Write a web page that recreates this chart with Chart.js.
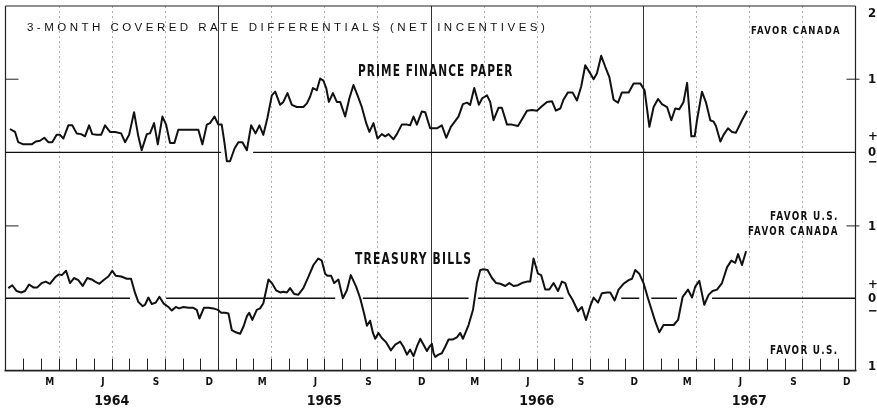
<!DOCTYPE html>
<html>
<head>
<meta charset="utf-8">
<script src="https://cdn.jsdelivr.net/npm/chart.js@4.4.1/dist/chart.umd.min.js"></script>
<style>
  html, body { margin: 0; padding: 0; background: #fff; }
  #wrap { position: relative; width: 877px; height: 408px; }
  canvas { display: block; }
  .note {
    position: absolute; white-space: nowrap; line-height: 1; color: #111;
    font-family: "DejaVu Sans Condensed", "DejaVu Sans", sans-serif;
    font-weight: bold; font-stretch: condensed; transform-origin: 0 0;
  }
  .note.light { font-family: "Liberation Sans", Arial, sans-serif; font-weight: normal; font-stretch: normal; }
</style>
</head>
<body>
<div id="wrap">
  <canvas id="chart" width="877" height="408"></canvas>
  <div class="note light" style="left:27px;top:22.8px;font-size:10px;letter-spacing:3px" data-w="518">3-MONTH COVERED RATE DIFFERENTIALS (NET INCENTIVES)</div>
  <div class="note" style="left:750.7px;top:25px;font-size:10.5px;letter-spacing:1.5px" data-w="88.6">FAVOR CANADA</div>
  <div class="note" style="left:358.3px;top:63.3px;font-size:16px;letter-spacing:1.5px" data-w="154.4">PRIME FINANCE PAPER</div>
  <div class="note" style="left:355px;top:252.3px;font-size:15px;letter-spacing:1.5px" data-w="116">TREASURY BILLS</div>
  <div class="note" style="left:770px;top:211.2px;font-size:11.5px;letter-spacing:1.5px" data-w="67.3">FAVOR U.S.</div>
  <div class="note" style="left:747.7px;top:226.3px;font-size:11.5px;letter-spacing:1.5px" data-w="89.6">FAVOR CANADA</div>
  <div class="note" style="left:770px;top:345.3px;font-size:11.5px;letter-spacing:1.5px" data-w="67">FAVOR U.S.</div>
</div>
<script>
// months counted from the start of January 1964
const monthLabelPos = [2.5, 5.5, 8.5, 11.5, 14.5, 17.5, 20.5, 23.5, 26.5, 29.5, 32.5, 35.5, 38.5, 41.5, 44.5, 47.5];
const monthLabels = ['M', 'J', 'S', 'D', 'M', 'J', 'S', 'D', 'M', 'J', 'S', 'D', 'M', 'J', 'S', 'D'];
const yearPos = [6, 18, 30, 42];
const yearLabels = ['1964', '1965', '1966', '1967'];
const quarterLines = [3, 6, 9, 15, 18, 21, 27, 30, 33, 39, 42, 45];
const yearLines = [12, 24, 36];

// right-hand scale labels for each panel
const paperTickValues = [1.9, 1, 0.22, 0, -0.14];
const paperTickLabels = ['2', '1', '+', '0', '\u2212'];
const billsTickValues = [0.99, 0.19, 0, -0.18, -0.945];
const billsTickLabels = ['1', '+', '0', '\u2212', '1'];

// prime finance paper
const paperMonths = [
  0.25, 0.54, 0.72, 1.01, 1.48, 1.71, 1.95, 2.19, 2.42, 2.64,
  2.89, 3.08, 3.27, 3.55, 3.77, 4.02, 4.27, 4.49, 4.72, 4.90,
  5.15, 5.40, 5.62, 5.90, 6.19, 6.53, 6.75, 6.98, 7.26, 7.50,
  7.69, 7.98, 8.16, 8.39, 8.60, 8.86, 9.07, 9.29, 9.54, 9.76,
  10.89, 11.12, 11.37, 11.55, 11.80, 12.02, 12.21, 12.36, 12.50, 12.68,
  12.93, 13.15, 13.38, 13.63, 13.87, 14.12, 14.34, 14.56, 14.79, 15.04,
  15.23, 15.51, 15.69, 15.92, 16.17, 16.45, 16.82, 17.02, 17.20, 17.36,
  17.58, 17.77, 17.95, 18.11, 18.26, 18.49, 18.71, 18.90, 19.18, 19.42,
  19.65, 19.88, 20.12, 20.37, 20.55, 20.78, 21.01, 21.25, 21.44, 21.63,
  21.91, 22.10, 22.38, 22.67, 22.85, 23.04, 23.23, 23.51, 23.70, 23.98,
  24.36, 24.64, 24.89, 25.15, 25.40, 25.58, 25.83, 26.06, 26.24, 26.47,
  26.73, 26.92, 27.19, 27.37, 27.56, 27.84, 28.03, 28.32, 28.60, 28.94,
  29.16, 29.45, 29.73, 30.01, 30.29, 30.58, 30.86, 31.08, 31.33, 31.51,
  31.76, 32.02, 32.27, 32.51, 32.74, 33.02, 33.21, 33.40, 33.64, 33.87,
  34.10, 34.34, 34.59, 34.81, 35.19, 35.47, 35.85, 36.09, 36.36, 36.60,
  36.85, 37.07, 37.36, 37.60, 37.82, 38.05, 38.29, 38.49, 38.73, 38.92,
  39.05, 39.33, 39.56, 39.80, 39.99, 40.12, 40.37, 40.55, 40.80, 41.03,
  41.25, 41.59, 41.88
];
const paperValues = [
  0.32, 0.28, 0.14, 0.11, 0.11, 0.15, 0.16, 0.20, 0.14, 0.14,
  0.24, 0.24, 0.19, 0.37, 0.37, 0.26, 0.25, 0.22, 0.37, 0.25,
  0.24, 0.24, 0.37, 0.28, 0.28, 0.26, 0.14, 0.24, 0.55, 0.22,
  0.03, 0.25, 0.26, 0.40, 0.11, 0.49, 0.38, 0.13, 0.13, 0.31,
  0.31, 0.11, 0.38, 0.40, 0.49, 0.38, 0.38, 0.14, -0.12, -0.12,
  0.05, 0.14, 0.14, 0.03, 0.37, 0.26, 0.37, 0.24, 0.47, 0.78,
  0.83, 0.65, 0.69, 0.81, 0.65, 0.62, 0.62, 0.67, 0.76, 0.88,
  0.85, 1.01, 0.98, 0.88, 0.69, 0.81, 0.69, 0.69, 0.49, 0.74,
  0.92, 0.78, 0.62, 0.40, 0.28, 0.40, 0.19, 0.25, 0.22, 0.25,
  0.18, 0.25, 0.38, 0.38, 0.37, 0.49, 0.38, 0.56, 0.55, 0.33,
  0.33, 0.37, 0.20, 0.35, 0.43, 0.49, 0.66, 0.68, 0.65, 0.88,
  0.65, 0.74, 0.78, 0.69, 0.44, 0.61, 0.61, 0.38, 0.38, 0.36,
  0.45, 0.57, 0.58, 0.57, 0.63, 0.69, 0.70, 0.57, 0.60, 0.72,
  0.82, 0.82, 0.71, 0.90, 1.19, 1.08, 1.00, 1.08, 1.32, 1.17,
  1.03, 0.72, 0.68, 0.82, 0.82, 0.94, 0.94, 0.85, 0.35, 0.62,
  0.73, 0.66, 0.62, 0.44, 0.60, 0.59, 0.69, 0.95, 0.22, 0.22,
  0.44, 0.83, 0.68, 0.44, 0.42, 0.36, 0.15, 0.24, 0.33, 0.28,
  0.27, 0.44, 0.57
];

// treasury bills
const billsMonths = [
  0.16, 0.38, 0.63, 0.88, 1.10, 1.33, 1.57, 1.80, 2.05, 2.27,
  2.51, 2.80, 3.02, 3.18, 3.42, 3.64, 3.87, 4.11, 4.36, 4.62,
  4.87, 5.06, 5.30, 5.58, 5.81, 6.03, 6.23, 6.53, 6.85, 7.09,
  7.32, 7.50, 7.75, 7.88, 8.07, 8.26, 8.49, 8.69, 8.92, 9.20,
  9.39, 9.62, 9.80, 10.05, 10.33, 10.58, 10.80, 10.95, 11.21, 11.46,
  11.74, 11.99, 12.18, 12.40, 12.59, 12.78, 13.01, 13.25, 13.44, 13.63,
  13.76, 13.94, 14.19, 14.38, 14.56, 14.85, 15.04, 15.28, 15.51, 15.69,
  15.89, 16.07, 16.30, 16.54, 16.82, 17.11, 17.39, 17.67, 17.86, 18.05,
  18.18, 18.39, 18.56, 18.80, 19.05, 19.28, 19.50, 19.80, 20.03, 20.25,
  20.41, 20.59, 20.75, 20.88, 21.06, 21.25, 21.50, 21.76, 22.01, 22.29,
  22.47, 22.67, 22.85, 23.04, 23.23, 23.42, 23.60, 23.80, 23.94, 24.08,
  24.17, 24.27, 24.45, 24.64, 24.83, 25.02, 25.27, 25.49, 25.68, 25.83,
  26.15, 26.40, 26.62, 26.81, 26.99, 27.22, 27.47, 27.71, 27.94, 28.22,
  28.45, 28.69, 28.94, 29.16, 29.45, 29.63, 29.82, 30.07, 30.25, 30.48,
  30.71, 30.95, 31.20, 31.42, 31.61, 31.80, 32.02, 32.33, 32.55, 32.78,
  33.02, 33.21, 33.46, 33.68, 33.97, 34.15, 34.40, 34.62, 34.90, 35.19,
  35.38, 35.56, 35.79, 36.03, 36.28, 36.51, 36.69, 36.92, 37.16, 37.45,
  37.73, 37.98, 38.24, 38.54, 38.77, 38.95, 39.18, 39.46, 39.71, 39.93,
  40.18, 40.46, 40.75, 40.99, 41.21, 41.37, 41.59, 41.82
];
const billsValues = [
  0.14, 0.18, 0.10, 0.08, 0.10, 0.19, 0.15, 0.15, 0.21, 0.23,
  0.20, 0.29, 0.33, 0.32, 0.38, 0.21, 0.28, 0.25, 0.17, 0.28,
  0.26, 0.23, 0.20, 0.26, 0.30, 0.38, 0.31, 0.30, 0.27, 0.27,
  0.07, -0.05, -0.11, -0.09, 0.01, -0.08, -0.06, 0.02, -0.07, -0.12,
  -0.17, -0.12, -0.14, -0.12, -0.13, -0.13, -0.16, -0.28, -0.13, -0.13,
  -0.14, -0.16, -0.20, -0.20, -0.21, -0.44, -0.47, -0.49, -0.39, -0.25,
  -0.20, -0.30, -0.16, -0.14, -0.07, 0.26, 0.21, 0.11, 0.08, 0.09,
  0.08, 0.14, 0.06, 0.05, 0.14, 0.30, 0.46, 0.55, 0.52, 0.34,
  0.31, 0.31, 0.21, 0.26, 0.00, 0.11, 0.32, 0.16, 0.00, -0.21,
  -0.38, -0.31, -0.48, -0.56, -0.48, -0.55, -0.61, -0.72, -0.64, -0.60,
  -0.67, -0.78, -0.71, -0.80, -0.67, -0.56, -0.64, -0.73, -0.67, -0.63,
  -0.76, -0.81, -0.78, -0.76, -0.67, -0.57, -0.57, -0.54, -0.48, -0.56,
  -0.37, -0.16, 0.21, 0.39, 0.40, 0.39, 0.28, 0.21, 0.20, 0.17,
  0.21, 0.17, 0.18, 0.21, 0.23, 0.23, 0.55, 0.34, 0.32, 0.12,
  0.12, 0.21, 0.10, 0.23, 0.21, 0.07, -0.02, -0.18, -0.12, -0.30,
  -0.11, 0.01, -0.06, 0.07, 0.08, 0.08, -0.03, 0.12, 0.20, 0.25,
  0.27, 0.39, 0.34, 0.21, 0.00, -0.18, -0.32, -0.47, -0.37, -0.37,
  -0.37, -0.30, 0.02, 0.12, 0.01, 0.16, 0.24, -0.09, 0.05, 0.10,
  0.12, 0.21, 0.43, 0.52, 0.49, 0.61, 0.46, 0.65
];

// pieces of the zero lines (months), broken where the original leaves gaps
const paperZeroSegments = [[0, 12.18], [13.98, 48]];
const billsZeroSegments = [[0, 7.03], [9.07, 18.62], [20.18, 26.15], [26.68, 31.51], [34.77, 35.79], [36.47, 37.92], [39.9, 48]];

const PAPER_MIN = -2.98, PAPER_MAX = 2;
const BILLS_MIN = -1, BILLS_MAX = 4.04;
const CONDENSED = '"DejaVu Sans Condensed", "DejaVu Sans", sans-serif';
const INK = '#111';

// both y scales fill the whole plot, so a bills value maps linearly onto the paper scale
function billsToPaper(v) {
    return PAPER_MIN + (v - BILLS_MIN) / (BILLS_MAX - BILLS_MIN) * (PAPER_MAX - PAPER_MIN);
}
const rightTickValues = paperTickValues.concat(billsTickValues.map(billsToPaper));
const rightTickLabels = paperTickLabels.concat(billsTickLabels);

function toPoints(xs, ys) {
    return xs.map((x, i) => ({ x: x, y: ys[i] }));
}
function zeroLine(segments) {
    const pts = [];
    segments.forEach(([a, b]) => {
        pts.push({ x: a, y: 0 }, { x: b, y: 0 }, { x: b, y: null });
    });
    return pts;
}

// frame, grid lines and tick marks of the original drawing
const framePlugin = {
    id: 'frame',
    beforeDatasetsDraw(chart) {
        const { ctx, chartArea: a, scales } = chart;
        const xs = scales.x;
        const line = (x1, y1, x2, y2) => {
            ctx.beginPath(); ctx.moveTo(x1, y1); ctx.lineTo(x2, y2); ctx.stroke();
        };
        ctx.save();

        ctx.strokeStyle = '#9a9a9a';
        ctx.lineWidth = 0.8;
        ctx.setLineDash([2, 3]);
        quarterLines.forEach(m => {
            const px = Math.round(xs.getPixelForValue(m)) + 0.5;
            line(px, a.top, px, a.bottom);
        });

        ctx.setLineDash([]);
        ctx.strokeStyle = '#333';
        ctx.lineWidth = 1;
        yearLines.forEach(m => {
            const px = Math.round(xs.getPixelForValue(m)) + 0.5;
            line(px, a.top, px, a.bottom);
        });

        ctx.strokeStyle = '#222';
        for (let m = 1; m < 48; m++) {
            const px = Math.round(xs.getPixelForValue(m)) + 0.5;
            line(px, a.bottom, px, a.bottom - 12);
        }

        [scales.y.getPixelForValue(1), scales.y2.getPixelForValue(1)].forEach(py => {
            line(a.left, py, a.left + 13, py);
            line(a.right - 9, py, a.right + 4, py);
        });

        ctx.strokeStyle = '#222';
        ctx.lineWidth = 1.2;
        line(a.left, a.top, a.right, a.top);
        line(a.left, a.top, a.left, a.bottom);
        line(a.right, a.top, a.right, a.bottom);
        ctx.lineWidth = 1.8;
        line(a.left - 1, a.bottom, a.right + 1, a.bottom);
        ctx.restore();
    }
};

new Chart(document.getElementById('chart'), {
    type: 'line',
    data: {
        datasets: [
            { label: 'Prime finance paper', data: toPoints(paperMonths, paperValues), yAxisID: 'y',
              borderColor: INK, borderWidth: 2, borderJoinStyle: 'round', pointRadius: 0, tension: 0 },
            { label: 'Treasury bills', data: toPoints(billsMonths, billsValues), yAxisID: 'y2',
              borderColor: INK, borderWidth: 2, borderJoinStyle: 'round', pointRadius: 0, tension: 0 },
            { label: 'zero paper', data: zeroLine(paperZeroSegments), yAxisID: 'y',
              borderColor: INK, borderWidth: 1.3, pointRadius: 0, spanGaps: false },
            { label: 'zero bills', data: zeroLine(billsZeroSegments), yAxisID: 'y2',
              borderColor: INK, borderWidth: 1.3, pointRadius: 0, spanGaps: false }
        ]
    },
    options: {
        responsive: false,
        animation: false,
        devicePixelRatio: 1,
        layout: { padding: { left: 5.5, top: 6, right: 0, bottom: 0 } },
        plugins: { legend: { display: false }, tooltip: { enabled: false } },
        scales: {
            x: {
                type: 'linear', min: 0, max: 48, position: 'bottom', weight: 0,
                afterBuildTicks: s => { s.ticks = monthLabelPos.map(v => ({ value: v })); },
                ticks: {
                    autoSkip: false, maxRotation: 0, padding: 7, color: INK,
                    font: { family: CONDENSED, weight: 'bold', size: 10, lineHeight: 1 },
                    callback: (v, i) => monthLabels[i]
                },
                grid: { display: false, drawTicks: false },
                border: { display: false }
            },
            x2: {
                type: 'linear', min: 0, max: 48, position: 'bottom', weight: 1,
                afterBuildTicks: s => { s.ticks = yearPos.map(v => ({ value: v })); },
                ticks: {
                    autoSkip: false, maxRotation: 0, padding: -0.3, color: INK,
                    font: { family: CONDENSED, weight: 'bold', size: 14, lineHeight: 1 },
                    callback: (v, i) => yearLabels[i]
                },
                grid: { display: false, drawTicks: false },
                border: { display: false }
            },
            y: {
                type: 'linear', position: 'right', min: PAPER_MIN, max: PAPER_MAX,
                afterBuildTicks: s => { s.ticks = rightTickValues.map(v => ({ value: v })); },
                afterFit: s => { s.width = 21.5; s.paddingTop = 0; s.paddingBottom = 0; },
                ticks: {
                    autoSkip: false, padding: 12.5, color: INK,
                    font: { family: CONDENSED, weight: 'bold', size: 13, lineHeight: 1 },
                    callback: (v, i) => rightTickLabels[i]
                },
                grid: { display: false, drawTicks: false },
                border: { display: false }
            },
            y2: { type: 'linear', display: false, min: BILLS_MIN, max: BILLS_MAX }
        }
    },
    plugins: [framePlugin]
});

// squeeze or stretch each caption to the width it has in the original
document.fonts.ready.then(() => {
    document.querySelectorAll('.note').forEach(el => {
        const target = parseFloat(el.dataset.w);
        const ls = parseFloat(el.style.letterSpacing) || 0;
        const w = el.getBoundingClientRect().width - ls;
        if (w > 0) el.style.transform = 'scaleX(' + (target / w).toFixed(3) + ')';
    });
});
</script>
</body>
</html>
